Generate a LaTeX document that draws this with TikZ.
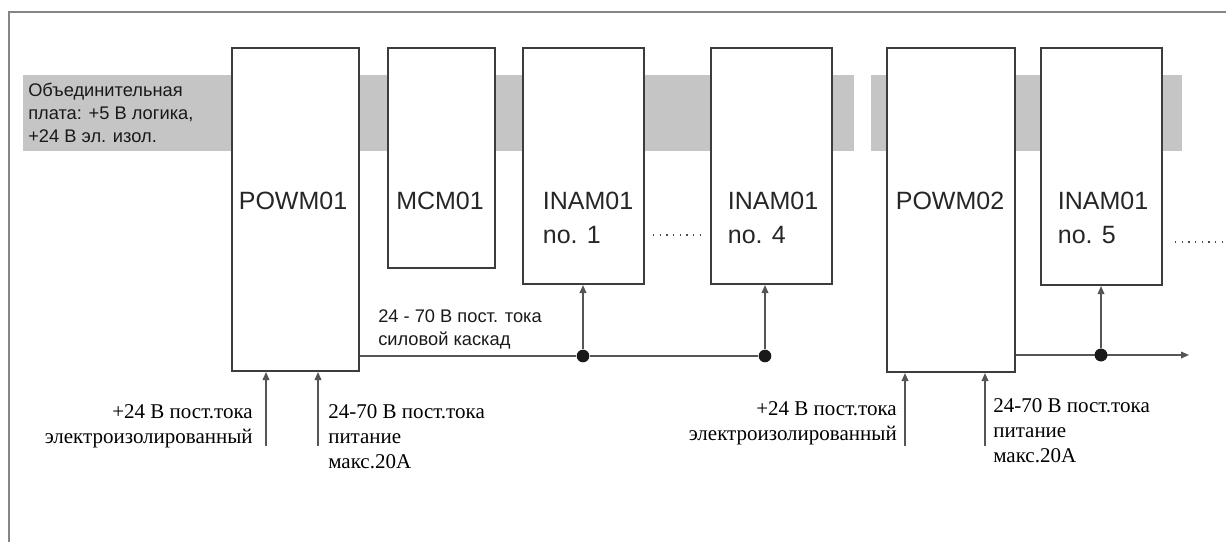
\documentclass[tikz,border=0pt]{standalone}
\usepackage{fontspec}
\setmainfont{Liberation Sans}
\newfontfamily\serifcyr{Liberation Serif}
\usetikzlibrary{arrows.meta,fit}
\newcommand{\rlines}[1]{\vtop{\halign{\hfil##\cr#1\crcr}}}
\newcommand{\llines}[1]{\vtop{\halign{##\hfil\cr#1\crcr}}}
\definecolor{bandgray}{HTML}{C4C5C4}
\definecolor{boxline}{HTML}{3C3C3C}
\definecolor{wire}{HTML}{555555}
\definecolor{framegray}{HTML}{858585}
\begin{document}
\begin{tikzpicture}[x=0.75pt,y=-0.75pt,
  band/.style={fill=bandgray,draw=none},
  modbox/.style={draw=boxline,line width=1.5pt,fill=white,inner sep=0pt,fit={#1}},
  modlabel/.style={inner sep=0pt,anchor=base,font=\fontsize{18.75pt}{25.5pt}\selectfont,text=black!85},
  smalllabel/.style={inner sep=0pt,anchor=base west,font=\fontsize{13.7pt}{17.6pt}\selectfont,text=black!90},
  seriflabel/.style={inner sep=0pt,font=\serifcyr\fontsize{15.75pt}{18.75pt}\selectfont,text=black},
  wireline/.style={draw=wire,line width=1.1pt},
  arrowline/.style={wireline,-{Triangle[length=6pt,width=5pt]}},
  junction/.style={circle,fill=black!90,draw=none,minimum size=9.5pt,inner sep=0pt},
  dotrow/.style={draw=black!70,line width=1pt,dash pattern=on 1pt off 4pt},
  frameline/.style={draw=framegray,line width=1.5pt}]
\useasboundingbox (0,0) rectangle (1226,542);
% outer frame
\draw[frameline] (9,542) -- (9,12) -- (1226,12);
% backplane band
\fill[band] (23,75) rectangle (854,151);
\fill[band] (871,75) rectangle (1182,151);
\node[smalllabel] (bandtxt) at (28,96) {\llines{Объединительная\cr плата: +5 В логика,\cr +24 В эл. изол.}};
% modules
\coordinate (p1a) at (232,48); \coordinate (p1b) at (359,371);
\coordinate (m1a) at (388,48); \coordinate (m1b) at (495,268);
\coordinate (i1a) at (523,48); \coordinate (i1b) at (644,284);
\coordinate (i4a) at (711,48); \coordinate (i4b) at (832,284);
\coordinate (p2a) at (887,48); \coordinate (p2b) at (1015,372);
\coordinate (i5a) at (1041,48); \coordinate (i5b) at (1162,285);
\node[modbox={(p1a)(p1b)}] (powm1) {};
\node[modbox={(m1a)(m1b)}] (mcm) {};
\node[modbox={(i1a)(i1b)}] (inam1) {};
\node[modbox={(i4a)(i4b)}] (inam4) {};
\node[modbox={(p2a)(p2b)}] (powm2) {};
\node[modbox={(i5a)(i5b)}] (inam5) {};
\node[modlabel] (powm1t) at (293,209) {POWM01};
\node[modlabel] (mcmt) at (440,209) {MCM01};
\node[modlabel] (inam1t) at (588,209) {\llines{INAM01\cr no. 1}};
\node[modlabel] (inam4t) at (773,209) {\llines{INAM01\cr no. 4}};
\node[modlabel] (powm2t) at (950,209) {POWM02};
\node[modlabel] (inam5t) at (1103,209) {\llines{INAM01\cr no. 5}};
% dotted continuation marks
\draw[dotrow] (653,235) -- (701,235);
\draw[dotrow] (1175,242) -- (1223,242);
% power bus 1
\node[junction] (d1) at (583,356) {};
\node[junction] (d4) at (765,356) {};
\draw[wireline] (powm1.east |- d1) -- (d1) -- (d4);
\draw[arrowline] (d1) -- (d1 |- inam1.south);
\draw[arrowline] (d4) -- (d4 |- inam4.south);
\node[smalllabel] (bustxt) at (378,322) {\llines{24 - 70 В пост. тока\cr силовой каскад}};
% power bus 2
\node[junction] (d5) at (1101,355) {};
\coordinate (busend) at (1189,355);
\draw[arrowline] (powm2.east |- d5) -- (busend);
\node[junction] at (d5) {};
\draw[arrowline] (d5) -- (d5 |- inam5.south);
% inputs POWM01
\coordinate (in1a) at (266,446);
\coordinate (in1b) at (318,446);
\draw[arrowline] (in1a) -- (in1a |- powm1.south);
\draw[arrowline] (in1b) -- (in1b |- powm1.south);
\node[seriflabel,anchor=base east] (l1a) at (253,418) {\rlines{+24 В пост.тока\cr электроизолированный}};
\node[seriflabel,anchor=base west] (l1b) at (328,418) {\llines{24-70 В пост.тока\cr питание\cr макс.20А}};
% inputs POWM02
\coordinate (in2a) at (905,446);
\coordinate (in2b) at (985,446);
\draw[arrowline] (in2a) -- (in2a |- powm2.south);
\draw[arrowline] (in2b) -- (in2b |- powm2.south);
\node[seriflabel,anchor=base east] (l2a) at (897,415) {\rlines{+24 В пост.тока\cr электроизолированный}};
\node[seriflabel,anchor=base west] (l2b) at (993,412) {\llines{24-70 В пост.тока\cr питание\cr макс.20А}};
\end{tikzpicture}
\end{document}
